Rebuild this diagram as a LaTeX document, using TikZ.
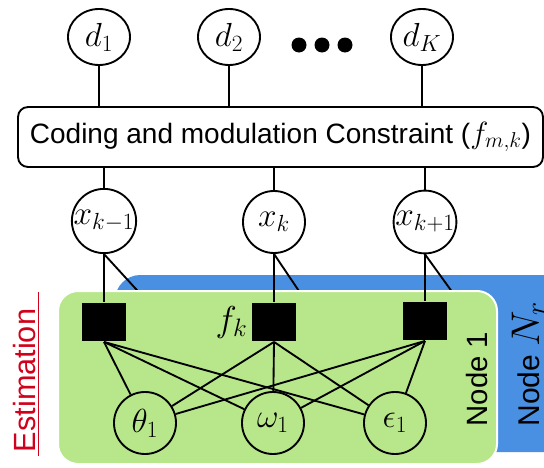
\documentclass[tikz,border=0pt]{standalone}
\usepackage{fix-cm}
\usepackage[no-math]{fontspec}
\setmainfont{Liberation Sans}
\usetikzlibrary{positioning,shapes.geometric}

\tikzset{every picture/.style={line width=1.4pt}}
\tikzset{
    mathfont/.style={font=\fontsize{25}{28}\selectfont},
    varnode/.style={draw, circle, minimum size=46.5pt, inner sep=0pt, mathfont},
    datanode/.style={draw, ellipse, minimum width=46.5pt, minimum height=42pt, inner sep=0pt, mathfont},
    factor/.style={fill=black, minimum width=33pt, minimum height=28.5pt, inner sep=0pt},
    sidelabel/.style={rotate=90, inner sep=0pt, anchor=base}
}

\begin{document}
\begin{tikzpicture}[x=0.75pt,y=0.75pt,yscale=-1,xscale=1]
        \useasboundingbox (0,0) rectangle (544,468);

        %Rounded Rect [id:node nr] 
        \fill [color={rgb, 255:red, 74; green, 144; blue, 226 }, rounded corners=19pt] (115,275) rectangle (580,452) ;

        % Constraint box
        \node [draw, rounded corners=7.5pt, minimum width=393.75pt, minimum height=45pt, inner sep=0pt, font=\fontsize{21}{25}\selectfont] (cons) at (280.5,137) {Coding and modulation Constraint (\fontsize{23}{25}\selectfont$f_{m,k}$\fontsize{21}{25}\selectfont)};

        % Data nodes
        \node [datanode] (d1) at (99,37) {$d_1$};
        \node [datanode] (d2) at (229,37) {$d_2$};
        \node [datanode] (dK) at (422,37) {$d_K$};
        \foreach \x in {299,322,345}
            \fill (\x,45) circle (7.5) ;

        % Symbol nodes
        \node [varnode] (xkm) at (104,221) {$x_{k-1}$};
        \node [varnode] (xk) at (274,222) {$x_k$};
        \node [varnode] (xkp) at (425,222) {$x_{k+1}$};

        %Straight Lines
        \foreach \n in {d1,d2,dK}
            \draw (\n) -- (\n |- cons.north) ;
        \foreach \n in {xkm,xk,xkp}
            \draw (cons.south -| \n) -- (\n) ;

        % links into node N_r
        \coordinate (h1) at (146,300) ;
        \coordinate (h2) at (305,300) ;
        \coordinate (h3) at (458,300) ;
        \draw (xkm.south) -- (h1) ;
        \draw (xk.south) -- (h2) ;
        \draw (xkp.south) -- (h3) ;

        %Rounded Rect [id:node 1] 
        \draw [color=white, fill={rgb, 255:red, 184; green, 230; blue, 138 }, line width=1.5pt, rounded corners=15pt] (58,291) rectangle (497,464) ;

        % Factor nodes
        \node [factor] (f1) at (104,322) {};
        \node [factor] (f2) at (274,322) {};
        \node [factor] (f3) at (425,321) {};
        \node [left=2pt of f2, inner sep=0pt, font=\fontsize{27}{30}\selectfont] (fk) {$f_k$};

        % Parameter nodes
        \node [varnode] (th) at (145,423) {$\theta_1$};
        \node [varnode] (om) at (273,423) {$\omega_1$};
        \node [varnode] (ep) at (395,423) {$\epsilon_1$};

        %Straight Lines
        \draw (xkm) -- (f1) ;
        \draw (xk) -- (f2) ;
        \draw (xkp) -- (f3) ;
        \foreach \f in {f1,f2,f3}
            \foreach \p in {th,om,ep}
                \draw (\f.south) -- (\p) ;

        % Text Node
        \node [sidelabel, font=\fontsize{22}{26}\selectfont] (n1) at (487,379) {Node 1};
        % Text Node
        \node [sidelabel, font=\fontsize{22.5}{27}\selectfont] (nr) at (539,364) {Node \fontsize{30}{32}\selectfont$N_r$};
        % Text Node
        \node [sidelabel, anchor=base west, color={rgb, 255:red, 208; green, 2; blue, 27 }, font=\fontsize{23}{28}\selectfont] (est) at (36,457) {\underline{\hspace{3pt}Estimation\hspace{13pt}}};
\end{tikzpicture}
\end{document}
